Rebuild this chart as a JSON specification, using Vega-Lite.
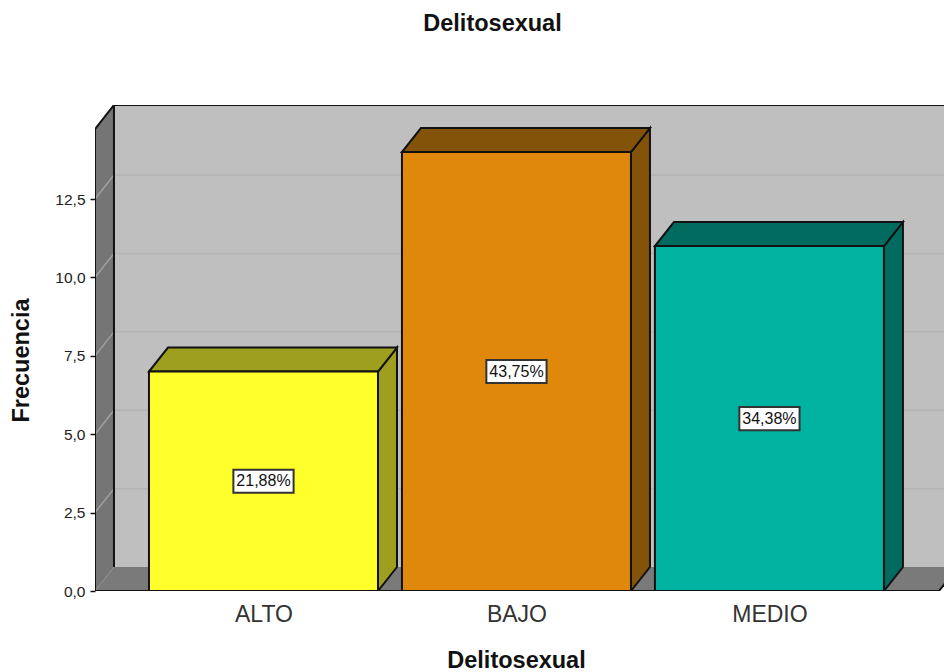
{
"$schema":"https://vega.github.io/schema/vega-lite/v6.json",
"width":849,"height":486,
"autosize":{"type":"none"},
"padding":{"left":95,"top":105,"right":0,"bottom":81},
"background":"white",
"title":{"text":"Delitosexual","font":"Liberation Sans","fontSize":23.5,"fontWeight":"bold","color":"#111111","anchor":"middle","dx":-27,"offset":70},
"config":{"view":{"stroke":null}},
"datasets":{
"bars":[
{"cat":"ALTO","idx":1,"n":7,"pct":"21,88%"},
{"cat":"BAJO","idx":2,"n":14,"pct":"43,75%"},
{"cat":"MEDIO","idx":3,"n":11,"pct":"34,38%"}],
"ticks":[{"v":2.5},{"v":5},{"v":7.5},{"v":10},{"v":12.5}],
"wall":[{"u":0.409,"u2":3.75,"lo":0.765,"hi":15.5}],
"left":[{"u":0.334,"lo":0,"hi":14.73},{"u":0.409,"lo":0.765,"hi":15.5}],
"floor":[{"u":0.334,"lo":0,"hi":0},{"u":0.409,"lo":0,"hi":0.765},{"u":3.67,"lo":0,"hi":0.765},{"u":3.745,"lo":0.765,"hi":0.765}],
"edges":[
{"u":0.409,"u2":3.75,"lo":15.5,"hi":15.5},
{"u":0.334,"u2":0.409,"lo":14.73,"hi":15.5},
{"u":0.409,"u2":0.409,"lo":0.765,"hi":15.5},
{"u":0.334,"u2":0.334,"lo":0,"hi":14.73},
{"u":0.334,"u2":3.67,"lo":0,"hi":0},
{"u":3.67,"u2":3.745,"lo":0,"hi":0.765}]
},
"encoding":{
"x":{"field":"u","type":"quantitative","title":"Delitosexual","scale":{"domain":[0.334,3.69],"nice":false,"zero":false},
"axis":{"values":[1,2,3],"labelExpr":"datum.value==1?'ALTO':datum.value==2?'BAJO':'MEDIO'","grid":false,"domain":false,"ticks":false,"labelFont":"Liberation Sans","labelFontSize":23,"labelColor":"#333333","labelPadding":12,"labelFlush":false,"labelOverlap":false,"titleFont":"Liberation Sans","titleFontSize":23.5,"titleFontWeight":"bold","titleColor":"#111111","titleX":421,"titleY":69,"titleBaseline":"middle"}},
"y":{"field":"lo","type":"quantitative","title":"Frecuencia","scale":{"domain":[0,15.5],"nice":false,"zero":false},
"axis":{"values":[0,2.5,5,7.5,10,12.5],"labelExpr":"replace(format(datum.value,'.1f'),'.',',')","grid":false,"domain":false,"tickColor":"#111111","tickSize":5,"tickWidth":1.5,"labelFont":"Liberation Sans","labelFontSize":15.5,"labelColor":"#222222","labelPadding":5,"labelFlush":false,"labelOverlap":false,"titleFont":"Liberation Sans","titleFontSize":23.5,"titleFontWeight":"bold","titleColor":"#111111","titleX":-74,"titleY":255,"titleBaseline":"middle"}}
},
"layer":[
{"data":{"name":"wall"},"mark":{"type":"rect","fill":"#bfbfbf","clip":true},
 "encoding":{"x2":{"field":"u2"},"y2":{"field":"hi"}}},
{"data":{"name":"ticks"},"transform":[{"calculate":"0.409","as":"u"},{"calculate":"3.75","as":"u2"},{"calculate":"datum.v+0.765","as":"lo"}],
 "mark":{"type":"rule","stroke":"#b3b3b3","strokeWidth":1.5,"clip":true},
 "encoding":{"x2":{"field":"u2"}}},
{"data":{"name":"left"},"mark":{"type":"area","fill":"#757575","opacity":1,"clip":true},
 "encoding":{"y2":{"field":"hi"}}},
{"data":{"name":"ticks"},"transform":[{"calculate":"0.334","as":"u"},{"calculate":"0.409","as":"u2"},{"calculate":"datum.v","as":"lo"},{"calculate":"datum.v+0.765","as":"hi"}],
 "mark":{"type":"rule","stroke":"#a0a0a0","strokeWidth":1.5,"clip":true},
 "encoding":{"x2":{"field":"u2"},"y2":{"field":"hi"}}},
{"data":{"name":"floor"},"mark":{"type":"area","fill":"#7a7a7a","opacity":1,"clip":true},
 "encoding":{"y2":{"field":"hi"}}},
{"data":{"name":"edges"},"mark":{"type":"rule","stroke":"#111111","strokeWidth":2,"clip":true},
 "encoding":{"x2":{"field":"u2"},"y2":{"field":"hi"}}},
{"data":{"name":"bars"},"transform":[
 {"calculate":"[datum.idx+0.4526,datum.idx+0.5277]","as":"u"},
 {"calculate":"[0,0.765]","as":"lo"},
 {"calculate":"[datum.n,datum.n+0.765]","as":"hi"},
 {"flatten":["u","lo","hi"]},
 {"calculate":"datum.cat+' oscuro'","as":"tono"}],
 "mark":{"type":"area","stroke":"#111111","strokeWidth":2,"opacity":1,"clip":true},
 "encoding":{"y2":{"field":"hi"},"fill":{"field":"tono","type":"nominal","legend":null,"scale":{"domain":["ALTO","BAJO","MEDIO","ALTO oscuro","BAJO oscuro","MEDIO oscuro"],"range":["#ffff2b","#e0880c","#00b3a0","#9f9f1f","#84530a","#006b5e"]}}}},
{"data":{"name":"bars"},"transform":[
 {"calculate":"[datum.idx-0.4526,datum.idx-0.3775,datum.idx+0.4526,datum.idx+0.5277]","as":"u"},
 {"calculate":"[datum.n,datum.n,datum.n,datum.n+0.765]","as":"lo"},
 {"calculate":"[datum.n,datum.n+0.765,datum.n+0.765,datum.n+0.765]","as":"hi"},
 {"flatten":["u","lo","hi"]},
 {"calculate":"datum.cat+' oscuro'","as":"tono"}],
 "mark":{"type":"area","stroke":"#111111","strokeWidth":2,"opacity":1,"clip":true},
 "encoding":{"y2":{"field":"hi"},"fill":{"field":"tono","type":"nominal","legend":null}}},
{"data":{"name":"bars"},"transform":[
 {"calculate":"datum.idx-0.4526","as":"u"},{"calculate":"datum.idx+0.4526","as":"u2"},
 {"calculate":"datum.n","as":"lo"},{"calculate":"0","as":"hi"}],
 "mark":{"type":"rect","stroke":"#111111","strokeWidth":2,"clip":true},
 "encoding":{"x2":{"field":"u2"},"y2":{"field":"hi"},"fill":{"field":"cat","type":"nominal","legend":null}}},
{"data":{"name":"bars"},"transform":[
 {"calculate":"datum.idx-0.119","as":"u"},{"calculate":"datum.idx+0.119","as":"u2"},
 {"calculate":"datum.n/2-0.37","as":"lo"},{"calculate":"datum.n/2+0.37","as":"hi"}],
 "mark":{"type":"rect","fill":"white","stroke":"#333333","strokeWidth":2},
 "encoding":{"x2":{"field":"u2"},"y2":{"field":"hi"}}},
{"data":{"name":"bars"},"transform":[
 {"calculate":"datum.idx","as":"u"},{"calculate":"datum.n/2","as":"lo"}],
 "mark":{"type":"text","font":"Liberation Sans","fontSize":16,"color":"#111111","align":"center","baseline":"middle"},
 "encoding":{"text":{"field":"pct"}}},
{"data":{"name":"edges"},"transform":[{"filter":"datum.u==0.334 && datum.u2==3.67"}],"mark":{"type":"rule","stroke":"#111111","strokeWidth":2,"clip":true},
 "encoding":{"x2":{"field":"u2"},"y2":{"field":"hi"}}}
]
}
